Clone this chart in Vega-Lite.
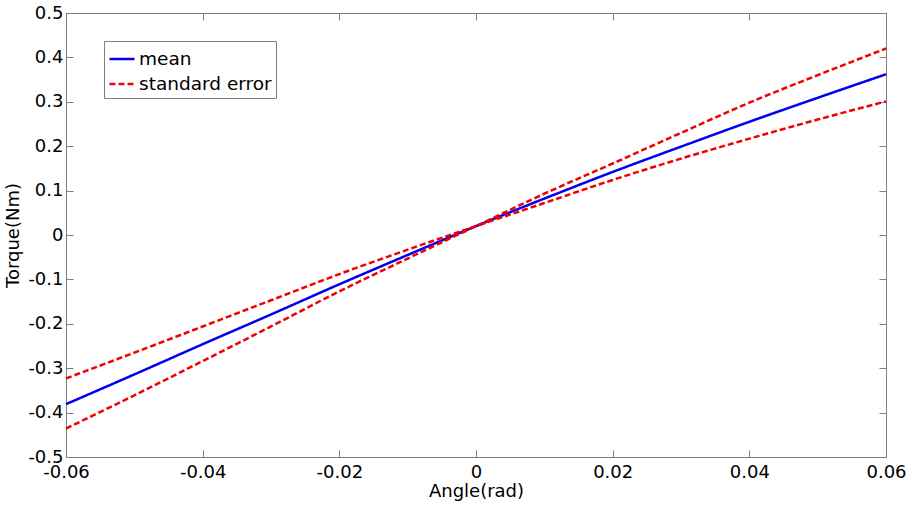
{
  "$schema": "https://vega.github.io/schema/vega-lite/v6.json",
  "width": 820,
  "height": 444,
  "autosize": "none",
  "padding": {"left": 66, "top": 13, "right": 23, "bottom": 48},
  "background": "white",
  "config": {
    "font": "DejaVu Sans",
    "view": {"stroke": "#7f7f7f", "strokeWidth": 1},
    "axis": {
      "domain": false,
      "grid": false,
      "tickColor": "#7f7f7f",
      "tickSize": -7,
      "labelFont": "DejaVu Sans",
      "labelFontSize": 18,
      "labelColor": "#000000",
      "labelFlush": false,
      "labelBound": false,
      "labelOverlap": false,
      "titleFont": "DejaVu Sans",
      "titleFontSize": 18,
      "titleFontWeight": "normal",
      "titleColor": "#000000"
    }
  },
  "data": {
    "values": [
      {"angle": -0.06, "torque": -0.381, "series": "mean", "curve": "mean"},
      {"angle": -0.05, "torque": -0.314, "series": "mean", "curve": "mean"},
      {"angle": -0.04, "torque": -0.246, "series": "mean", "curve": "mean"},
      {"angle": -0.03, "torque": -0.179, "series": "mean", "curve": "mean"},
      {"angle": -0.02, "torque": -0.111, "series": "mean", "curve": "mean"},
      {"angle": -0.01, "torque": -0.045, "series": "mean", "curve": "mean"},
      {"angle": 0.0, "torque": 0.02, "series": "mean", "curve": "mean"},
      {"angle": 0.01, "torque": 0.082, "series": "mean", "curve": "mean"},
      {"angle": 0.02, "torque": 0.142, "series": "mean", "curve": "mean"},
      {"angle": 0.03, "torque": 0.199, "series": "mean", "curve": "mean"},
      {"angle": 0.04, "torque": 0.255, "series": "mean", "curve": "mean"},
      {"angle": 0.05, "torque": 0.309, "series": "mean", "curve": "mean"},
      {"angle": 0.06, "torque": 0.362, "series": "mean", "curve": "mean"},
      {"angle": -0.06, "torque": -0.436, "series": "standard error", "curve": "steep"},
      {"angle": -0.05, "torque": -0.361, "series": "standard error", "curve": "steep"},
      {"angle": -0.04, "torque": -0.284, "series": "standard error", "curve": "steep"},
      {"angle": -0.03, "torque": -0.206, "series": "standard error", "curve": "steep"},
      {"angle": -0.02, "torque": -0.127, "series": "standard error", "curve": "steep"},
      {"angle": -0.01, "torque": -0.053, "series": "standard error", "curve": "steep"},
      {"angle": 0.0, "torque": 0.02, "series": "standard error", "curve": "steep"},
      {"angle": 0.01, "torque": 0.093, "series": "standard error", "curve": "steep"},
      {"angle": 0.02, "torque": 0.161, "series": "standard error", "curve": "steep"},
      {"angle": 0.03, "torque": 0.23, "series": "standard error", "curve": "steep"},
      {"angle": 0.04, "torque": 0.298, "series": "standard error", "curve": "steep"},
      {"angle": 0.05, "torque": 0.36, "series": "standard error", "curve": "steep"},
      {"angle": 0.06, "torque": 0.42, "series": "standard error", "curve": "steep"},
      {"angle": -0.06, "torque": -0.323, "series": "standard error", "curve": "flat"},
      {"angle": -0.05, "torque": -0.265, "series": "standard error", "curve": "flat"},
      {"angle": -0.04, "torque": -0.206, "series": "standard error", "curve": "flat"},
      {"angle": -0.03, "torque": -0.147, "series": "standard error", "curve": "flat"},
      {"angle": -0.02, "torque": -0.088, "series": "standard error", "curve": "flat"},
      {"angle": -0.01, "torque": -0.033, "series": "standard error", "curve": "flat"},
      {"angle": 0.0, "torque": 0.02, "series": "standard error", "curve": "flat"},
      {"angle": 0.01, "torque": 0.072, "series": "standard error", "curve": "flat"},
      {"angle": 0.02, "torque": 0.124, "series": "standard error", "curve": "flat"},
      {"angle": 0.03, "torque": 0.172, "series": "standard error", "curve": "flat"},
      {"angle": 0.04, "torque": 0.217, "series": "standard error", "curve": "flat"},
      {"angle": 0.05, "torque": 0.26, "series": "standard error", "curve": "flat"},
      {"angle": 0.06, "torque": 0.301, "series": "standard error", "curve": "flat"}
    ]
  },
  "layer": [
    {
      "mark": {"type": "line", "strokeWidth": 2.5, "interpolate": "monotone"},
      "encoding": {
        "x": {
          "field": "angle",
          "type": "quantitative",
          "scale": {"domain": [-0.06, 0.06], "nice": false, "zero": false},
          "axis": {
            "orient": "bottom",
            "title": "Angle(rad)",
            "values": [-0.06, -0.04, -0.02, 0, 0.02, 0.04, 0.06],
            "labelExpr": "datum.value == 0 ? '0' : (datum.value < 0 ? '-' + format(-datum.value, '.2f') : format(datum.value, '.2f'))",
            "labelPadding": 13,
            "titlePadding": 1
          }
        },
        "y": {
          "field": "torque",
          "type": "quantitative",
          "scale": {"domain": [-0.5, 0.5], "nice": false, "zero": false},
          "axis": {
            "orient": "left",
            "title": "Torque(Nm)",
            "values": [-0.5, -0.4, -0.3, -0.2, -0.1, 0, 0.1, 0.2, 0.3, 0.4, 0.5],
            "labelExpr": "datum.value == 0 ? '0' : (datum.value < 0 ? '-' + format(-datum.value, '.1f') : format(datum.value, '.1f'))",
            "labelPadding": 10,
            "titlePadding": 5
          }
        },
        "color": {
          "field": "series",
          "type": "nominal",
          "scale": {"domain": ["mean", "standard error"], "range": ["#0000f0", "#f00000"]},
          "legend": {
            "orient": "none",
            "legendX": 38,
            "legendY": 28,
            "title": null,
            "strokeColor": "#7f7f7f",
            "fillColor": "white",
            "padding": 4,
            "symbolType": "stroke",
            "symbolSize": 625,
            "symbolStrokeWidth": 2.5,
            "labelFont": "DejaVu Sans",
            "labelFontSize": 18.5,
            "labelColor": "#000000",
            "labelOffset": 3,
            "rowPadding": 1
          }
        },
        "strokeDash": {
          "field": "series",
          "type": "nominal",
          "scale": {"domain": ["mean", "standard error"], "range": [[1, 0], [6, 3]]},
          "legend": {
            "orient": "none",
            "legendX": 38,
            "legendY": 28,
            "title": null
          }
        },
        "detail": {"field": "curve", "type": "nominal"}
      }
    },
    {
      "mark": {"type": "line", "opacity": 0},
      "encoding": {
        "x": {
          "field": "angle",
          "type": "quantitative",
          "axis": {
            "orient": "top",
            "title": null,
            "labels": false,
            "values": [-0.06, -0.04, -0.02, 0, 0.02, 0.04, 0.06]
          }
        },
        "y": {
          "field": "torque",
          "type": "quantitative",
          "axis": {
            "orient": "right",
            "title": null,
            "labels": false,
            "values": [-0.5, -0.4, -0.3, -0.2, -0.1, 0, 0.1, 0.2, 0.3, 0.4, 0.5]
          }
        },
        "detail": {"field": "curve", "type": "nominal"}
      }
    }
  ],
  "resolve": {"axis": {"x": "independent", "y": "independent"}}
}
